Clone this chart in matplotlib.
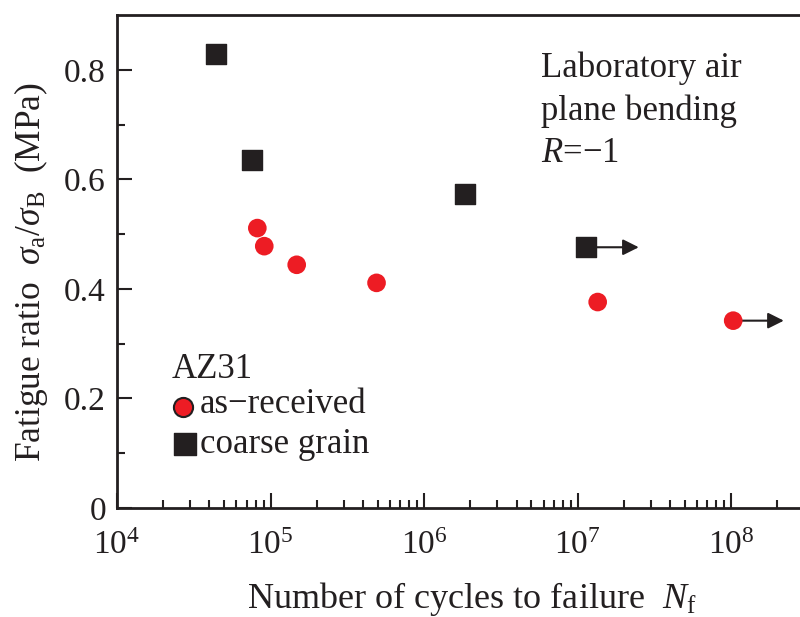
import numpy as np
import matplotlib
matplotlib.use("Agg")
from matplotlib import pyplot as plt

plt.rcParams['font.family'] = ['Liberation Serif', 'DejaVu Serif']
plt.rcParams['mathtext.fontset'] = 'custom'
plt.rcParams['mathtext.rm'] = 'Liberation Serif'
plt.rcParams['mathtext.it'] = 'Liberation Serif:italic'

# as-received (red circles)
ar_cycles = [8.2e4, 9.1e4, 1.48e5, 4.9e5, 1.35e7, 1.03e8]
ar_ratio = [0.511, 0.478, 0.444, 0.411, 0.376, 0.342]

# coarse grain (black squares)
cg_cycles = [4.4e4, 7.6e4, 1.85e6, 1.13e7]
cg_ratio = [0.829, 0.636, 0.573, 0.476]

# run-out arrows: (start cycles, end cycles, ratio)
runouts = [(1.13e7, 2.5e7, 0.476), (1.03e8, 2.2e8, 0.342)]

x_ticks = [1e4, 1e5, 1e6, 1e7, 1e8]
x_ticklabels = ['$10^4$', '$10^5$', '$10^6$', '$10^7$', '$10^8$']
y_ticks = [0, 0.2, 0.4, 0.6, 0.8]
y_ticklabels = ['0', '0.2', '0.4', '0.6', '0.8']

ink = '#231f20'

fig = plt.figure(figsize=(8, 6.17), dpi=100)
ax = fig.add_axes([117 / 800, 1 - 508 / 617, 1 - 117 / 800 + 0.01, (508 - 15) / 617])

for (x0, x1, y) in runouts:
    ax.annotate('', xy=(x1, y), xytext=(x0, y),
                arrowprops=dict(arrowstyle='-|>', color=ink, lw=1.5,
                                mutation_scale=24, shrinkA=0, shrinkB=0))

ax.scatter(cg_cycles, cg_ratio, marker='s', s=210, color=ink, zorder=3)
ax.scatter(ar_cycles, ar_ratio, marker='o', s=180, color='#ed1c24', zorder=3,
           edgecolors='none')

ax.set_xscale('log')
ax.set_xlim(1e4, 10 ** 8.5)
ax.set_ylim(0, 0.9)
ax.set_xticks(x_ticks)
ax.set_xticklabels(x_ticklabels)
ax.set_yticks(y_ticks)
ax.set_yticklabels(y_ticklabels)
ax.set_yticks(np.arange(0.1, 0.9, 0.2), minor=True)
ax.xaxis.set_minor_locator(matplotlib.ticker.LogLocator(base=10, subs=np.arange(2, 10), numticks=20))
ax.xaxis.set_minor_formatter(matplotlib.ticker.NullFormatter())

ax.tick_params(which='both', direction='in', labelsize=24, colors=ink, width=1.5)
ax.tick_params(which='major', length=11, pad=8)
ax.tick_params(which='minor', length=6)
ax.tick_params(axis='x', which='major', pad=16)
for side in ['left', 'bottom', 'top']:
    ax.spines[side].set_linewidth(2)
    ax.spines[side].set_color(ink)
ax.spines['right'].set_visible(False)

ax.set_xlabel('Number of cycles to failure  $N_{\\mathrm{f}}$', fontsize=26,
              color=ink, labelpad=14)
ax.xaxis.label.set_x(0.514)
ax.set_ylabel('Fatigue ratio  $\\sigma_{\\mathrm{a}}/\\sigma_{\\mathrm{B}}$  (MPa)',
              fontsize=25.5, color=ink, labelpad=10)
ax.yaxis.label.set_y(0.479)

ax.text(0.614, 0.925, 'Laboratory air\nplane bending\n$R$=\u22121', transform=ax.transAxes,
        fontsize=25, color=ink, va='top', ha='left', linespacing=1.35)

ax.text(0.079, 0.264, 'AZ31', transform=ax.transAxes, fontsize=25, color=ink,
        va='baseline')
ax.scatter([0.096], [0.205], transform=ax.transAxes, marker='o', s=190,
           color='#ed1c24', edgecolors=ink, linewidths=1.5, clip_on=False, zorder=4)
ax.text(0.12, 0.193, 'as\u2212received', transform=ax.transAxes, fontsize=25,
        color=ink, va='baseline')
ax.scatter([0.098], [0.13], transform=ax.transAxes, marker='s', s=230,
           color=ink, clip_on=False, zorder=4)
ax.text(0.12, 0.112, 'coarse grain', transform=ax.transAxes, fontsize=25,
        color=ink, va='baseline')

fig.savefig('out.png', dpi=100)
